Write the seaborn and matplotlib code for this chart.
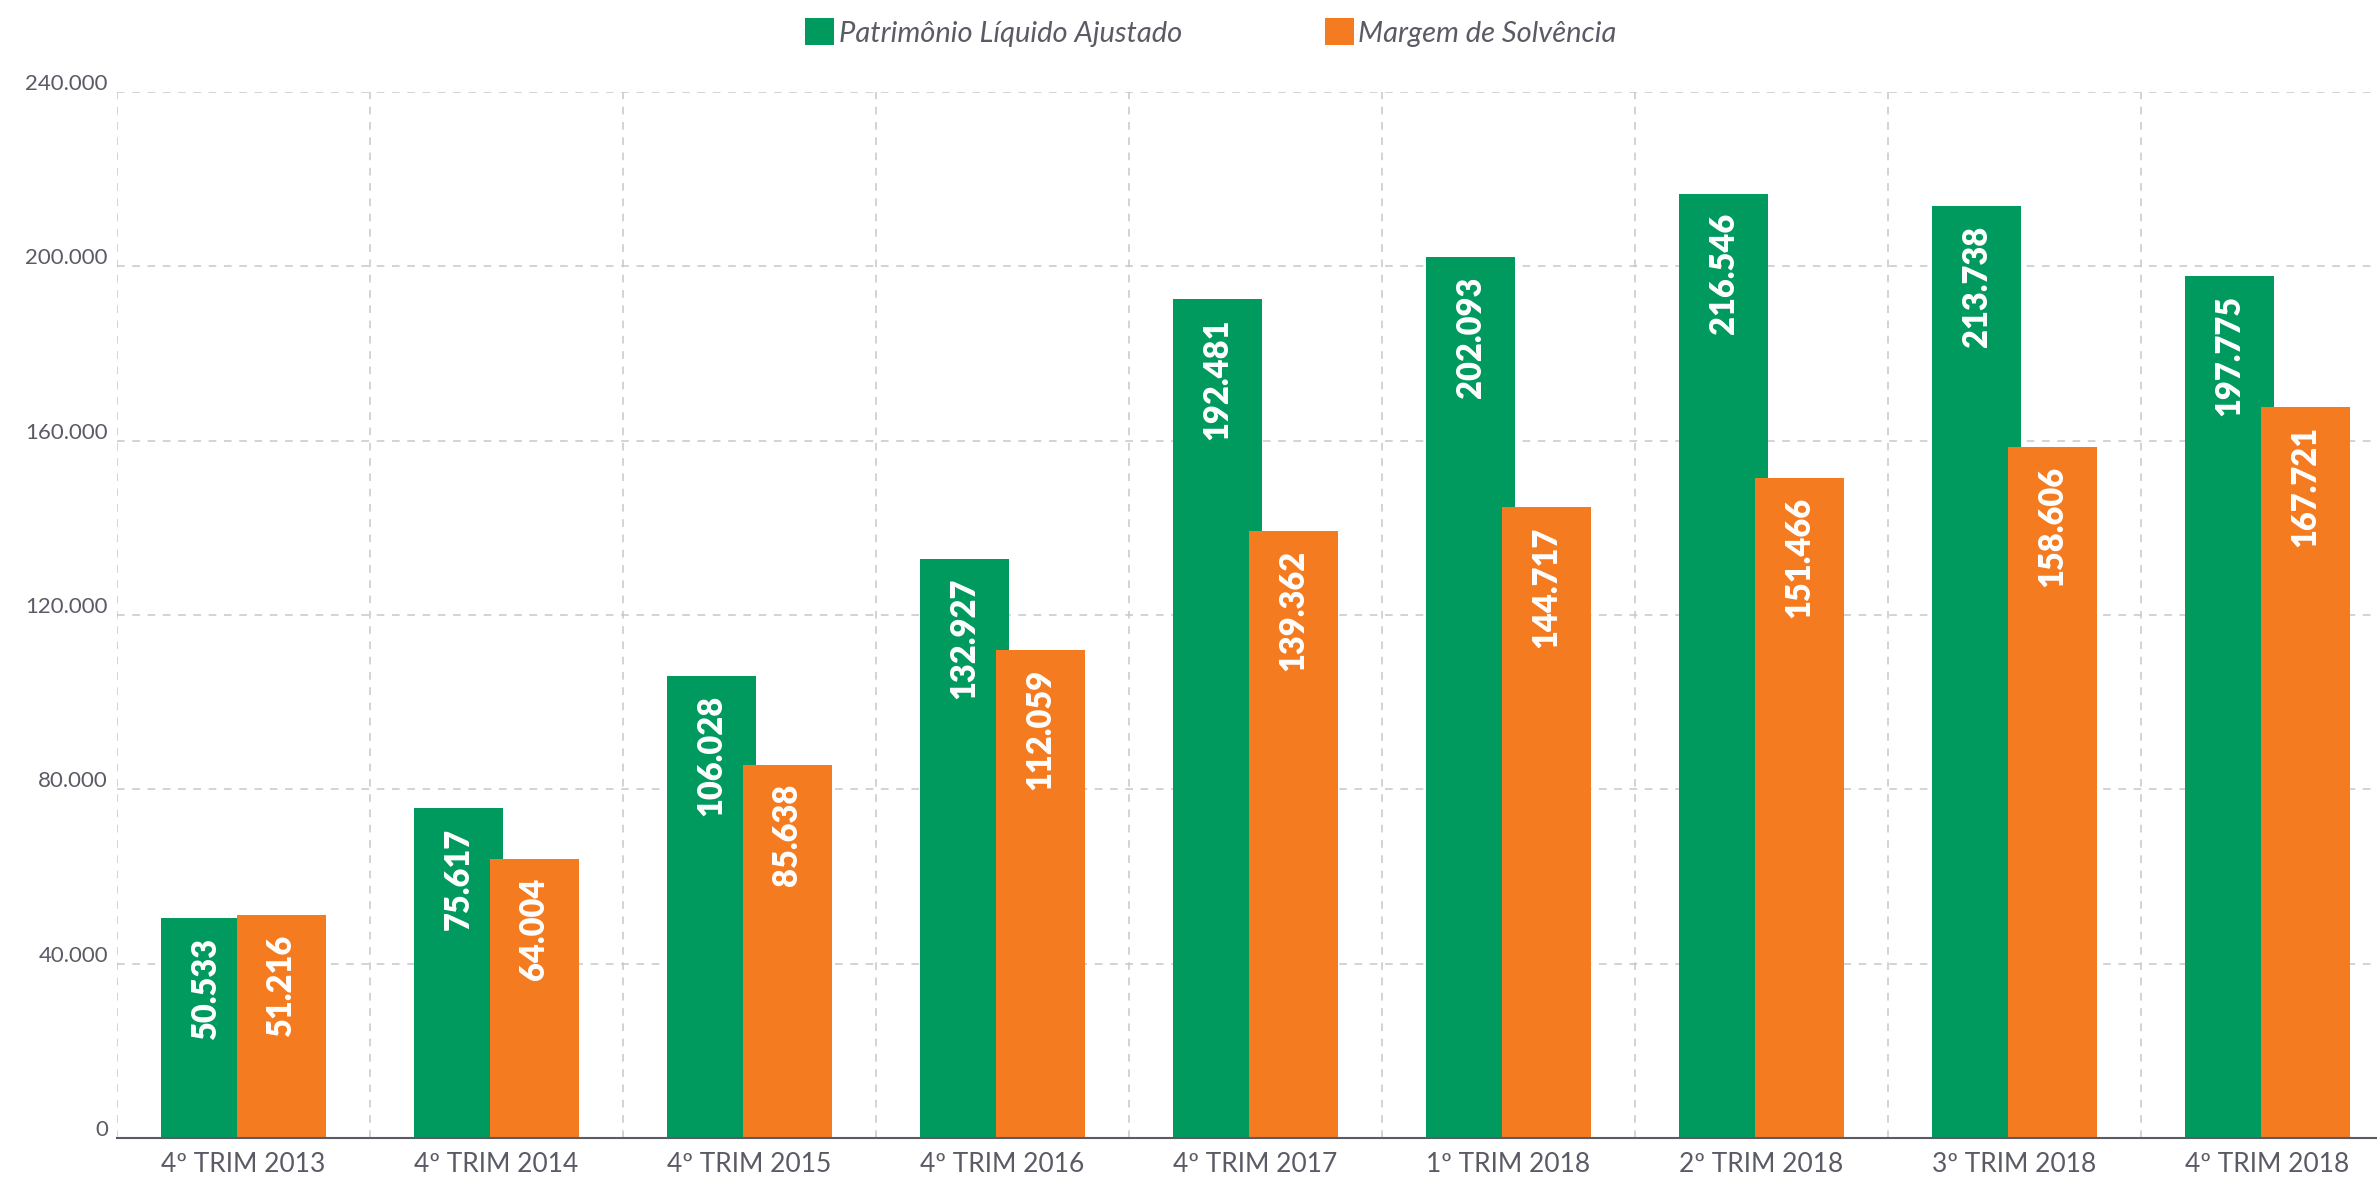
import pandas as pd
import seaborn as sns
import numpy as np
import matplotlib.pyplot as plt
from matplotlib.transforms import ScaledTranslation

# valores (R$ mil)
periodos = ['4º TRIM 2013', '4º TRIM 2014', '4º TRIM 2015', '4º TRIM 2016', '4º TRIM 2017',
            '1º TRIM 2018', '2º TRIM 2018', '3º TRIM 2018', '4º TRIM 2018']
pla = [50533, 75617, 106028, 132927, 192481, 202093, 216546, 213738, 197775]
margem = [51216, 64004, 85638, 112059, 139362, 144717, 151466, 158606, 167721]
series = ['Patrimônio Líquido Ajustado', 'Margem de Solvência']
yticks = [0, 40000, 80000, 120000, 160000, 200000, 240000]

green = '#009A5E'
orange = '#F47B20'
grey = '#5b5b66'

df = pd.DataFrame({
    'periodo': periodos * 2,
    'valor': pla + margem,
    'serie': [series[0]] * len(pla) + [series[1]] * len(margem),
})

sns.set_theme(style='white')
plt.rcParams['font.family'] = ['Lato', 'DejaVu Sans']

fig = plt.figure(figsize=(23.77, 11.78), dpi=100)
ax = fig.add_axes([117 / 2377, 40 / 1178, 1 - 117 / 2377, 1046 / 1178])

sns.barplot(data=df, x='periodo', y='valor', hue='serie', order=periodos,
            hue_order=series, palette=[green, orange], saturation=1,
            width=0.6, gap=0, linewidth=0, ax=ax)

# barras um pouco mais largas, laranja sobrepondo a verde
for bar in ax.patches:
    c = bar.get_x() + bar.get_width() / 2
    bar.set_width(0.35)
    bar.set_x(c - 0.175)

# rotulos dentro das barras
for container in ax.containers:
    for bar in container:
        v = bar.get_height()
        ax.annotate(f'{v:,.0f}'.replace(',', '.'),
                    xy=(bar.get_x() + bar.get_width() / 2, v),
                    xytext=(0, -19), textcoords='offset pixels',
                    rotation=90, ha='center', va='top',
                    color='white', fontsize=23.5, fontweight='heavy')

ax.set_yticks(yticks)
ax.set_yticklabels([f'{t:,.0f}'.replace(',', '.') for t in yticks])
ax.set_xticks(range(len(periodos)), minor=False)
ax.set_xticks(np.arange(-0.5, len(periodos), 1), minor=True)
ax.set_ylim(0, 240000)
ax.set_xlim(-0.5, 8.433)
ax.set_xlabel('')
ax.set_ylabel('')

ax.grid(False)
ax.yaxis.grid(True, color='#c5c7cc', linestyle=(0, (5, 5)), linewidth=1.1)
ax.xaxis.grid(True, which='minor', color='#c5c7cc', linestyle=(0, (5, 5)), linewidth=1.1)
ax.set_axisbelow(True)

for s in ['top', 'right', 'left']:
    ax.spines[s].set_visible(False)
ax.spines['bottom'].set_color(grey)
ax.spines['bottom'].set_linewidth(1.5)

ax.tick_params(axis='y', length=0, pad=6.5, labelsize=16, labelcolor=grey)
ax.tick_params(axis='x', which='both', length=0, pad=10, labelsize=19, labelcolor=grey)
for lab in ax.get_yticklabels():
    lab.set_transform(lab.get_transform() + ScaledTranslation(0, 0.1, fig.dpi_scale_trans))

sns.move_legend(ax, 'center', bbox_to_anchor=(0.484, 1.057), ncol=2, title=None,
                frameon=False, handlelength=1.0, handleheight=1.05,
                handletextpad=0.15, columnspacing=4.9,
                prop={'family': 'Lato', 'style': 'italic', 'size': 21},
                labelcolor=grey)

fig.savefig('out.png', dpi=100)
